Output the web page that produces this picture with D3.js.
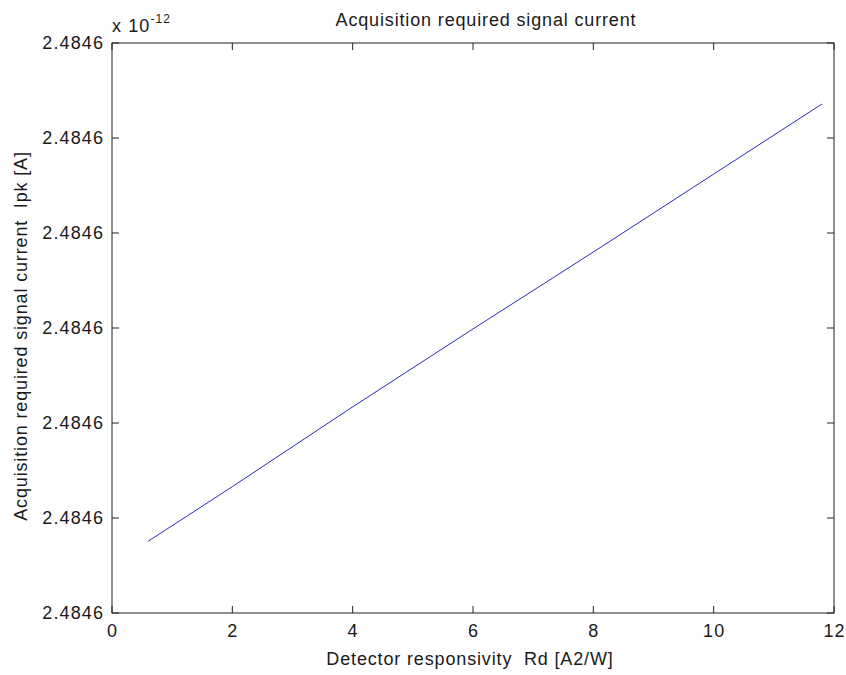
<!DOCTYPE html>
<html lang="en">
<head>
    <meta charset="UTF-8">
    <title>Acquisition required signal current</title>
    <script src="https://d3js.org/d3.v7.min.js"></script>
    <style>
        body {
            margin: 0;
            background-color: #ffffff;
        }
        svg text {
            font-family: "Liberation Sans", Arial, sans-serif;
            fill: #1a1a1a;
            white-space: pre;
        }
        .tick-label {
            font-size: 18px;
            letter-spacing: 1.1px;
        }
        .axis-title {
            font-size: 18px;
            letter-spacing: 0.85px;
        }
    </style>
</head>
<body>
    <div id="chart"></div>

    <script>
        // Data (y in tick units above the bottom 2.4846 tick)
        const rd = [0.6, 2, 4, 6, 8, 10, 11.8];
        const ipk = [0.755, 1.33, 2.17, 2.99, 3.80, 4.62, 5.358];

        const xTicks = [0, 2, 4, 6, 8, 10, 12];
        const yTicks = [0, 1, 2, 3, 4, 5, 6];
        const yTickLabels = ["2.4846", "2.4846", "2.4846", "2.4846", "2.4846", "2.4846", "2.4846"];

        const width = 846;
        const height = 675;
        const margin = { top: 43, right: 12, bottom: 62, left: 112 };

        const svg = d3.select("#chart")
            .append("svg")
            .attr("width", width)
            .attr("height", height);

        const x = d3.scaleLinear()
            .domain([0, 12])
            .range([margin.left, width - margin.right]);

        const y = d3.scaleLinear()
            .domain([0, 6])
            .range([height - margin.bottom, margin.top]);

        const tickLen = 7;

        // axes box
        svg.append("rect")
            .attr("x", x(0))
            .attr("y", y(6))
            .attr("width", x(12) - x(0))
            .attr("height", y(0) - y(6))
            .attr("fill", "none")
            .attr("stroke", "#222")
            .attr("stroke-width", 1);

        // x ticks (bottom and top, inward)
        xTicks.forEach(t => {
            svg.append("line")
                .attr("x1", x(t)).attr("x2", x(t))
                .attr("y1", y(0)).attr("y2", y(0) - tickLen)
                .attr("stroke", "#222");
            svg.append("line")
                .attr("x1", x(t)).attr("x2", x(t))
                .attr("y1", y(6)).attr("y2", y(6) + tickLen)
                .attr("stroke", "#222");
            svg.append("text")
                .attr("class", "tick-label")
                .attr("x", x(t) + 0.5)
                .attr("y", y(0) + 24)
                .attr("text-anchor", "middle")
                .text(t);
        });

        // y ticks (left and right, inward)
        yTicks.forEach((t, i) => {
            svg.append("line")
                .attr("x1", x(0)).attr("x2", x(0) + tickLen)
                .attr("y1", y(t)).attr("y2", y(t))
                .attr("stroke", "#222");
            svg.append("line")
                .attr("x1", x(12)).attr("x2", x(12) - tickLen)
                .attr("y1", y(t)).attr("y2", y(t))
                .attr("stroke", "#222");
            svg.append("text")
                .attr("class", "tick-label")
                .attr("x", x(0) - 8)
                .attr("y", y(t))
                .attr("dy", "0.36em")
                .attr("text-anchor", "end")
                .text(yTickLabels[i]);
        });

        // exponent label
        const expo = svg.append("text")
            .attr("class", "tick-label")
            .attr("x", x(0))
            .attr("y", y(6) - 11);
        expo.append("tspan").text("x 10");
        expo.append("tspan")
            .attr("dy", -9)
            .attr("font-size", "12px")
            .text("-12");

        // data line
        const line = d3.line()
            .x((d, i) => x(rd[i]))
            .y(d => y(d));

        svg.append("path")
            .datum(ipk)
            .attr("d", line)
            .attr("fill", "none")
            .attr("stroke", "#2a2ab8")
            .attr("stroke-width", 1);

        // titles
        svg.append("text")
            .attr("class", "axis-title")
            .attr("x", (x(0) + x(12)) / 2 + 13)
            .attr("y", 26)
            .attr("text-anchor", "middle")
            .text("Acquisition required signal current");

        svg.append("text")
            .attr("class", "axis-title")
            .attr("x", (x(0) + x(12)) / 2 - 3)
            .attr("y", y(0) + 52)
            .attr("text-anchor", "middle")
            .text("Detector responsivity  Rd [A2/W]");

        svg.append("text")
            .attr("class", "axis-title")
            .attr("transform", `translate(27, ${(y(0) + y(6)) / 2 + 8}) rotate(-90)`)
            .attr("text-anchor", "middle")
            .text("Acquisition required signal current  Ipk [A]");
    </script>
</body>
</html>
